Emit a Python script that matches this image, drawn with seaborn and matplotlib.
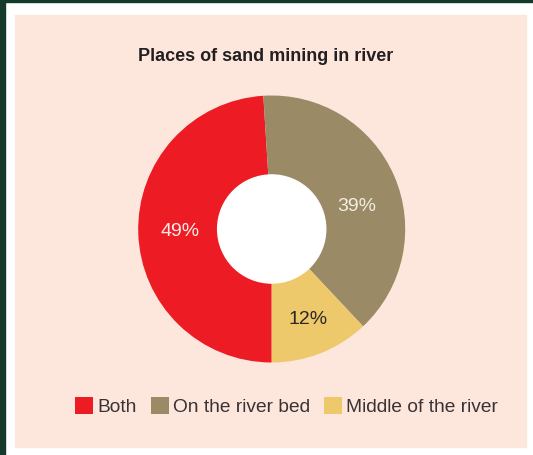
import numpy as np
import seaborn as sns
import matplotlib.pyplot as plt
from matplotlib.patches import Rectangle, Circle

# data
categories = ["Both", "On the river bed", "Middle of the river"]
shares = [49, 39, 12]
colors = ["#ED1C24", "#9B8A66", "#EEC96C"]
label_colors = ["#FBEDEA", "#F3EEE4", "#2B2622"]

sns.set_theme(style="white")
plt.rcParams['font.family'] = ['Liberation Sans', 'DejaVu Sans']

W, H = 533, 455
fig = plt.figure(figsize=(W / 100, H / 100), dpi=100, facecolor="white")

# photo edge + peach panel (behind the axes)
fig.patches.append(Rectangle((0, 0), 5 / W, 1, transform=fig.transFigure,
                             color="#15392b", zorder=-10))
fig.patches.append(Rectangle((0, 1 - 2 / H), 1, 2 / H, transform=fig.transFigure,
                             color="#15392b", zorder=-10))
fig.patches.append(Rectangle((15 / W, 8 / H), 511 / W, 432 / H,
                             transform=fig.transFigure, color="#FDE7DD", zorder=-10))

# donut: centre (271.7, 229) px, outer radius 133.5 px
cx, cy, r = 271.7, 229, 133.5
ax = fig.add_axes([(cx - r) / W, (H - cy - r) / H, 2 * r / W, 2 * r / H])
ax.set_zorder(1)
wedges, texts, autotexts = ax.pie(
    shares, colors=sns.color_palette(colors), startangle=-90, counterclock=False,
    autopct="%d%%", pctdistance=0.69, wedgeprops=dict(linewidth=0),
    textprops=dict(fontsize=14),
)
ax.add_patch(Circle((0, 0), 0.405, color="white", zorder=5))
for t, c in zip(autotexts, label_colors):
    t.set_color(c)
# label nudges: 39% a bit lower, 12% a bit further out
a = np.deg2rad(14.5)
autotexts[1].set_position((0.66 * np.cos(a), 0.66 * np.sin(a)))
a = np.deg2rad(-67.8)
autotexts[2].set_position((0.73 * np.cos(a), 0.73 * np.sin(a)))
ax.set_xlim(-1, 1)
ax.set_ylim(-1, 1)
ax.set_aspect("equal")

fig.text(265.8 / W, 1 - 56.5 / H, "Places of sand mining in river",
         ha="center", va="center", fontsize=13, fontweight="bold", color="#231F20")

fig.legend(wedges, categories, loc="center", ncol=3, frameon=False,
           bbox_to_anchor=(286.7 / W, 1 - 406.5 / H), fontsize=13.8,
           handlelength=0.94, handleheight=0.94, handletextpad=0.24,
           columnspacing=0.7, borderpad=0, labelcolor="#3A3232")

fig.savefig("out.png", dpi=100)
